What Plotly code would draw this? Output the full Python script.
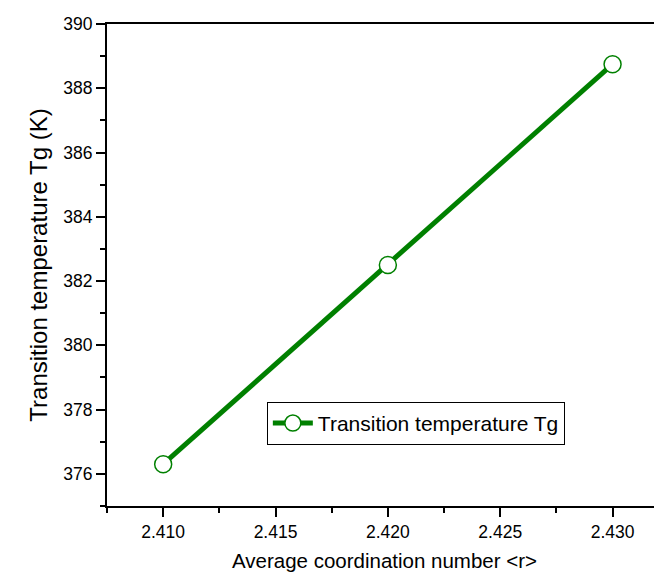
import plotly.graph_objects as go

coord_number = [2.410, 2.420, 2.430]
tg_values = [376.3, 382.5, 388.75]
series_name = "Transition temperature Tg"

green = "#008000"
font_family = "Liberation Sans, Arial, sans-serif"

fig = go.Figure()
fig.add_trace(go.Scatter(
    x=coord_number, y=tg_values, mode="lines+markers", name=series_name,
    line=dict(color=green, width=5),
    marker=dict(symbol="circle", size=17, color="white",
                line=dict(color=green, width=1.5)),
))

# page body has an 8px margin, so the figure is sized to fill 662x578 from (8,8)
fig.update_layout(
    width=654, height=570,
    margin=dict(l=99, r=0, t=16, b=72, autoexpand=False),
    paper_bgcolor="white", plot_bgcolor="white",
    font=dict(family=font_family, size=17.5, color="black"),
    showlegend=True,
    legend=dict(x=0.288, y=0.216, xanchor="left", yanchor="top",
                bgcolor="white", bordercolor="black", borderwidth=1,
                font=dict(size=21, family=font_family),
                itemwidth=40, tracegroupgap=0),
    xaxis=dict(range=[2.4075, 2.4322], dtick=0.005, tick0=2.41,
               tickformat=".3f", showgrid=False, zeroline=False,
               automargin=False,
               showline=True, linecolor="black", linewidth=2, mirror=True,
               ticks="outside", ticklen=9, tickwidth=2, tickcolor="black",
               minor=dict(dtick=0.0025, tick0=2.41, ticks="outside", ticklen=5,
                          tickwidth=2, tickcolor="black", showgrid=False),
               title=dict(text="Average coordination number &lt;r&gt;",
                          font=dict(size=20.5), standoff=13)),
    yaxis=dict(range=[375, 390], dtick=2, tick0=376,
               showgrid=False, zeroline=False, automargin=False,
               showline=True, linecolor="black", linewidth=2,
               ticks="outside", ticklen=9, tickwidth=2, tickcolor="black",
               minor=dict(dtick=1, ticks="outside", ticklen=5, tickwidth=2,
                          tickcolor="black", showgrid=False),
               title=dict(text="Transition temperature Tg (K)",
                          font=dict(size=24), standoff=9)),
)

fig.write_html("out.html")
